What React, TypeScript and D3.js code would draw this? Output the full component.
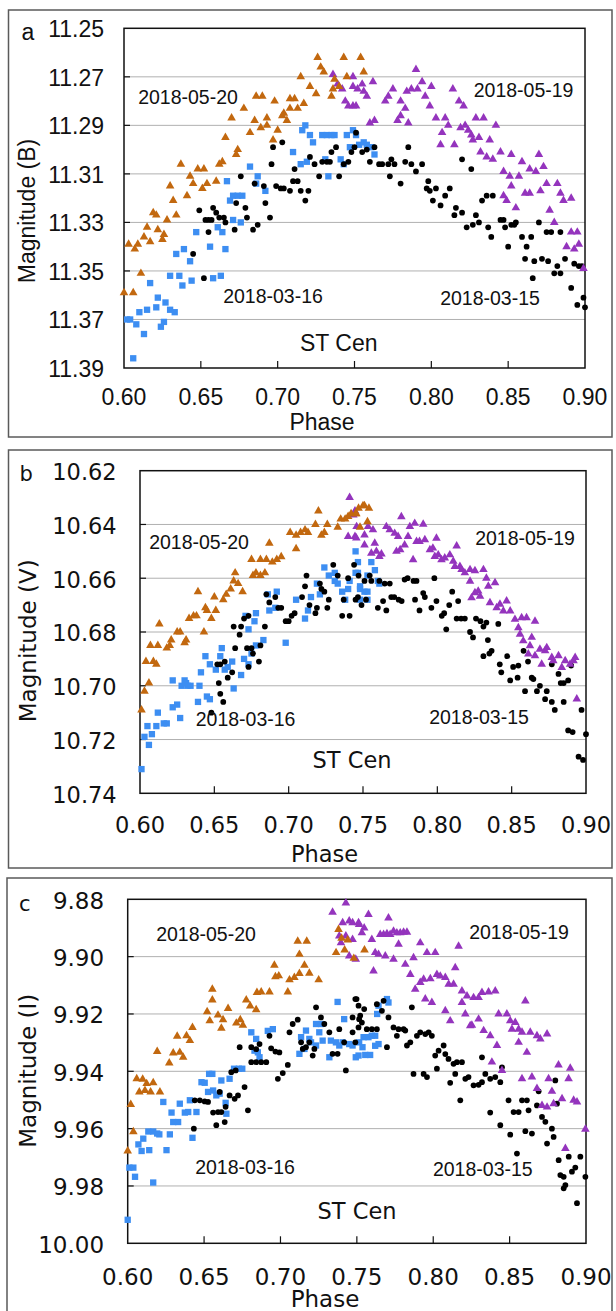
import React from "react";
import * as d3 from "d3";

// ---------- tick labels ----------
const PHASE_TICKS = [0.6, 0.65, 0.7, 0.75, 0.8, 0.85, 0.9];
const B_TICKS = [11.25, 11.27, 11.29, 11.31, 11.33, 11.35, 11.37, 11.39];
const V_TICKS = [10.62, 10.64, 10.66, 10.68, 10.7, 10.72, 10.74];
const I_TICKS = [9.88, 9.9, 9.92, 9.94, 9.96, 9.98, 10.0];
const DATES = ["2018-05-20", "2018-05-19", "2018-03-16", "2018-03-15"];
const STAR = "ST Cen";
const BANDS = ["Magnitude (B)", "Magnitude (V)", "Magnitude (I)"];

// ---------- data: [phase, magnitude] ----------
const B_0520 = [[0.600,11.359],[0.606,11.359],[0.611,11.351],[0.603,11.339],[0.607,11.341],[0.609,11.339],[0.613,11.336],[0.615,11.332],[0.617,11.338],[0.619,11.326],[0.621,11.327],[0.622,11.333],[0.625,11.337],[0.626,11.335],[0.628,11.329],[0.630,11.315],[0.632,11.321],[0.634,11.327],[0.637,11.306],[0.641,11.319],[0.643,11.311],[0.645,11.314],[0.648,11.308],[0.652,11.308],[0.651,11.316],[0.654,11.314],[0.660,11.313],[0.662,11.306],[0.664,11.305],[0.666,11.295],[0.670,11.287],[0.673,11.302],[0.674,11.300],[0.678,11.283],[0.682,11.293],[0.685,11.288],[0.686,11.278],[0.690,11.278],[0.689,11.291],[0.693,11.290],[0.693,11.287],[0.698,11.280],[0.697,11.296],[0.700,11.292],[0.703,11.286],[0.704,11.285],[0.706,11.288],[0.708,11.279],[0.708,11.283],[0.711,11.279],[0.713,11.283],[0.715,11.270],[0.717,11.281],[0.721,11.274],[0.725,11.277],[0.726,11.262],[0.728,11.266],[0.730,11.268],[0.735,11.278],[0.736,11.275],[0.737,11.271],[0.740,11.274],[0.743,11.262],[0.745,11.270],[0.754,11.262],[0.756,11.268]];
const B_0519 = [[0.736,11.269],[0.739,11.273],[0.742,11.275],[0.744,11.280],[0.746,11.282],[0.749,11.282],[0.751,11.282],[0.749,11.274],[0.752,11.275],[0.755,11.273],[0.749,11.270],[0.756,11.276],[0.758,11.278],[0.760,11.289],[0.763,11.288],[0.762,11.272],[0.770,11.280],[0.772,11.278],[0.775,11.275],[0.778,11.288],[0.780,11.286],[0.783,11.283],[0.780,11.280],[0.785,11.289],[0.784,11.276],[0.787,11.275],[0.790,11.267],[0.791,11.275],[0.794,11.272],[0.796,11.278],[0.799,11.282],[0.800,11.274],[0.803,11.287],[0.807,11.293],[0.809,11.287],[0.811,11.290],[0.806,11.298],[0.815,11.298],[0.814,11.275],[0.818,11.280],[0.821,11.282],[0.819,11.291],[0.822,11.290],[0.824,11.292],[0.826,11.294],[0.827,11.296],[0.831,11.295],[0.838,11.296],[0.829,11.287],[0.834,11.287],[0.842,11.290],[0.832,11.301],[0.836,11.303],[0.840,11.304],[0.845,11.301],[0.847,11.309],[0.852,11.302],[0.851,11.311],[0.857,11.311],[0.859,11.305],[0.864,11.308],[0.868,11.309],[0.870,11.302],[0.873,11.307],[0.847,11.319],[0.849,11.321],[0.852,11.315],[0.861,11.318],[0.864,11.318],[0.855,11.324],[0.871,11.317],[0.875,11.314],[0.877,11.325],[0.882,11.314],[0.884,11.318],[0.886,11.321],[0.880,11.330],[0.891,11.320],[0.891,11.334],[0.895,11.334],[0.888,11.340],[0.893,11.341],[0.896,11.339],[0.899,11.349]];
const B_0316 = [[0.602,11.370],[0.604,11.370],[0.606,11.386],[0.608,11.372],[0.610,11.367],[0.613,11.376],[0.615,11.366],[0.617,11.355],[0.621,11.365],[0.622,11.361],[0.624,11.373],[0.626,11.371],[0.627,11.363],[0.630,11.366],[0.633,11.367],[0.630,11.352],[0.634,11.343],[0.636,11.352],[0.638,11.356],[0.639,11.341],[0.643,11.346],[0.644,11.354],[0.647,11.334],[0.656,11.340],[0.658,11.353],[0.661,11.332],[0.663,11.352],[0.664,11.334],[0.666,11.341],[0.667,11.313],[0.669,11.321],[0.671,11.319],[0.674,11.319],[0.677,11.319],[0.671,11.329],[0.676,11.330],[0.682,11.307],[0.686,11.314],[0.687,11.311],[0.692,11.317],[0.710,11.301],[0.715,11.306],[0.716,11.292],[0.718,11.290],[0.719,11.305],[0.721,11.294],[0.723,11.297],[0.729,11.294],[0.731,11.304],[0.732,11.294],[0.733,11.311],[0.735,11.294],[0.737,11.294],[0.741,11.304],[0.743,11.306],[0.745,11.294],[0.747,11.299],[0.749,11.292],[0.751,11.294],[0.753,11.298],[0.756,11.297],[0.758,11.298],[0.761,11.299],[0.763,11.302]];
const B_0315 = [[0.645,11.343],[0.649,11.325],[0.652,11.353],[0.653,11.329],[0.655,11.329],[0.657,11.329],[0.655,11.334],[0.658,11.324],[0.660,11.326],[0.662,11.328],[0.665,11.328],[0.666,11.330],[0.672,11.333],[0.673,11.322],[0.676,11.311],[0.679,11.324],[0.680,11.328],[0.684,11.333],[0.685,11.314],[0.687,11.331],[0.691,11.315],[0.692,11.322],[0.695,11.328],[0.696,11.306],[0.697,11.299],[0.703,11.297],[0.699,11.315],[0.702,11.316],[0.704,11.316],[0.708,11.317],[0.710,11.313],[0.711,11.308],[0.713,11.313],[0.715,11.317],[0.718,11.321],[0.720,11.317],[0.721,11.303],[0.724,11.306],[0.727,11.311],[0.729,11.305],[0.732,11.305],[0.734,11.305],[0.735,11.301],[0.738,11.299],[0.740,11.311],[0.743,11.306],[0.746,11.305],[0.748,11.301],[0.750,11.299],[0.751,11.293],[0.755,11.301],[0.758,11.300],[0.760,11.305],[0.763,11.299],[0.766,11.306],[0.768,11.306],[0.772,11.306],[0.773,11.311],[0.774,11.304],[0.776,11.306],[0.780,11.314],[0.783,11.305],[0.785,11.299],[0.787,11.306],[0.790,11.309],[0.794,11.306],[0.797,11.316],[0.799,11.317],[0.798,11.313],[0.801,11.321],[0.803,11.316],[0.806,11.323],[0.809,11.319],[0.812,11.316],[0.815,11.327],[0.816,11.324],[0.820,11.326],[0.820,11.304],[0.823,11.332],[0.826,11.308],[0.827,11.331],[0.829,11.327],[0.831,11.330],[0.833,11.321],[0.836,11.319],[0.840,11.319],[0.837,11.332],[0.839,11.336],[0.845,11.329],[0.847,11.329],[0.848,11.332],[0.850,11.340],[0.852,11.331],[0.854,11.331],[0.855,11.330],[0.859,11.336],[0.862,11.340],[0.865,11.336],[0.861,11.345],[0.866,11.353],[0.867,11.346],[0.872,11.345],[0.870,11.330],[0.875,11.334],[0.878,11.334],[0.884,11.334],[0.876,11.346],[0.882,11.348],[0.880,11.351],[0.884,11.351],[0.887,11.345],[0.893,11.347],[0.891,11.357],[0.895,11.364],[0.899,11.361],[0.900,11.365],[0.896,11.348],[0.898,11.348]];

const V_0520 = [[0.601,10.709],[0.603,10.702],[0.606,10.699],[0.604,10.691],[0.609,10.691],[0.611,10.692],[0.607,10.685],[0.612,10.685],[0.613,10.677],[0.618,10.686],[0.620,10.685],[0.621,10.683],[0.625,10.680],[0.627,10.680],[0.630,10.684],[0.631,10.683],[0.633,10.675],[0.636,10.674],[0.638,10.674],[0.639,10.665],[0.643,10.680],[0.644,10.671],[0.645,10.672],[0.648,10.675],[0.650,10.667],[0.651,10.672],[0.656,10.668],[0.658,10.666],[0.661,10.664],[0.664,10.658],[0.663,10.661],[0.666,10.662],[0.669,10.665],[0.675,10.653],[0.681,10.653],[0.685,10.653],[0.676,10.659],[0.678,10.658],[0.681,10.659],[0.684,10.658],[0.687,10.647],[0.689,10.654],[0.692,10.653],[0.695,10.652],[0.701,10.643],[0.705,10.644],[0.708,10.643],[0.705,10.649],[0.711,10.642],[0.713,10.643],[0.718,10.640],[0.720,10.635],[0.722,10.644],[0.726,10.640],[0.724,10.643],[0.733,10.641],[0.735,10.638],[0.738,10.638],[0.740,10.637],[0.742,10.636],[0.745,10.636],[0.747,10.634],[0.750,10.633],[0.7455,10.636],[0.748,10.641],[0.751,10.633],[0.754,10.634],[0.753,10.639]];
const V_0519 = [[0.741,10.630],[0.7435,10.6365],[0.7446,10.635],[0.7457,10.6408],[0.740,10.6445],[0.7446,10.6445],[0.7455,10.645],[0.751,10.6439],[0.7534,10.6408],[0.7567,10.642],[0.751,10.6476],[0.7579,10.647],[0.7556,10.6507],[0.759,10.650],[0.761,10.6519],[0.7624,10.651],[0.7657,10.6408],[0.768,10.642],[0.7713,10.6433],[0.7736,10.6445],[0.7758,10.6371],[0.7725,10.650],[0.775,10.6494],[0.778,10.6476],[0.7803,10.6445],[0.7815,10.6408],[0.7848,10.6396],[0.786,10.6463],[0.7905,10.6399],[0.7837,10.6531],[0.788,10.6463],[0.7916,10.6457],[0.795,10.6494],[0.7994,10.6451],[0.797,10.6488],[0.7983,10.6519],[0.8006,10.6513],[0.8028,10.6531],[0.805,10.6525],[0.8084,10.6513],[0.8107,10.6537],[0.813,10.648],[0.8118,10.6556],[0.8152,10.6556],[0.8163,10.6568],[0.8185,10.658],[0.822,10.6568],[0.8253,10.6572],[0.831,10.6568],[0.822,10.6611],[0.8253,10.6654],[0.8275,10.6648],[0.823,10.6673],[0.8287,10.6667],[0.833,10.660],[0.8343,10.663],[0.8388,10.6617],[0.8354,10.6691],[0.8399,10.671],[0.8421,10.6697],[0.8444,10.6722],[0.8466,10.6685],[0.849,10.6722],[0.8522,10.6753],[0.8545,10.6784],[0.8567,10.6747],[0.860,10.6747],[0.8657,10.676],[0.8556,10.6808],[0.8578,10.6833],[0.8623,10.6851],[0.8635,10.682],[0.8612,10.6882],[0.8657,10.6888],[0.869,10.6864],[0.8725,10.687],[0.8736,10.6858],[0.8702,10.692],[0.877,10.6895],[0.878,10.6907],[0.8815,10.6888],[0.8837,10.6932],[0.886,10.6907],[0.8893,10.692],[0.8916,10.6907],[0.8927,10.6895],[0.8938,10.7049]];
const V_0316 = [[0.601,10.731],[0.603,10.719],[0.606,10.722],[0.608,10.718],[0.605,10.715],[0.611,10.715],[0.612,10.710],[0.616,10.714],[0.618,10.714],[0.622,10.708],[0.625,10.707],[0.627,10.712],[0.622,10.698],[0.630,10.698],[0.632,10.700],[0.628,10.700],[0.631,10.699],[0.634,10.700],[0.639,10.706],[0.640,10.700],[0.641,10.695],[0.645,10.704],[0.647,10.705],[0.644,10.689],[0.647,10.692],[0.651,10.694],[0.654,10.689],[0.655,10.686],[0.657,10.694],[0.659,10.693],[0.662,10.691],[0.663,10.701],[0.668,10.696],[0.670,10.690],[0.673,10.692],[0.675,10.688],[0.678,10.685],[0.683,10.683],[0.673,10.679],[0.677,10.676],[0.671,10.674],[0.678,10.673],[0.687,10.672],[0.691,10.671],[0.698,10.684],[0.686,10.666],[0.692,10.665],[0.705,10.668],[0.711,10.675],[0.713,10.672],[0.715,10.667],[0.719,10.662],[0.721,10.666],[0.724,10.656],[0.727,10.659],[0.731,10.658],[0.731,10.661],[0.733,10.662],[0.736,10.665],[0.738,10.668],[0.740,10.664],[0.741,10.661],[0.745,10.658],[0.745,10.650],[0.748,10.663],[0.7466,10.654],[0.7466,10.658],[0.748,10.664],[0.753,10.659],[0.7556,10.654],[0.758,10.657],[0.760,10.661],[0.761,10.662],[0.753,10.665],[0.751,10.665],[0.748,10.668],[0.753,10.668]];
const V_0315 = [[0.648,10.710],[0.653,10.699],[0.654,10.703],[0.656,10.706],[0.652,10.692],[0.654,10.692],[0.657,10.691],[0.659,10.697],[0.662,10.695],[0.664,10.686],[0.663,10.678],[0.667,10.681],[0.668,10.678],[0.670,10.675],[0.673,10.674],[0.672,10.686],[0.675,10.686],[0.676,10.688],[0.673,10.693],[0.680,10.691],[0.681,10.685],[0.684,10.678],[0.685,10.666],[0.687,10.669],[0.691,10.667],[0.693,10.671],[0.695,10.671],[0.698,10.676],[0.700,10.676],[0.702,10.674],[0.704,10.673],[0.709,10.667],[0.711,10.663],[0.712,10.659],[0.714,10.670],[0.718,10.673],[0.719,10.671],[0.721,10.662],[0.722,10.664],[0.724,10.665],[0.727,10.668],[0.726,10.671],[0.730,10.655],[0.736,10.674],[0.741,10.674],[0.733,10.659],[0.740,10.660],[0.737,10.668],[0.745,10.668],[0.744,10.655],[0.747,10.659],[0.7466,10.667],[0.751,10.661],[0.7545,10.659],[0.7556,10.661],[0.749,10.670],[0.752,10.668],[0.760,10.671],[0.761,10.661],[0.7635,10.6685],[0.7657,10.672],[0.7646,10.662],[0.768,10.662],[0.769,10.667],[0.771,10.667],[0.774,10.668],[0.776,10.6685],[0.778,10.6605],[0.780,10.660],[0.784,10.661],[0.786,10.661],[0.785,10.668],[0.788,10.672],[0.7905,10.6655],[0.7916,10.667],[0.796,10.671],[0.798,10.660],[0.7994,10.6685],[0.803,10.674],[0.8046,10.673],[0.808,10.670],[0.806,10.679],[0.810,10.665],[0.813,10.675],[0.814,10.6685],[0.816,10.675],[0.8185,10.675],[0.822,10.680],[0.824,10.682],[0.826,10.675],[0.829,10.676],[0.831,10.678],[0.833,10.6765],[0.834,10.683],[0.831,10.689],[0.835,10.688],[0.8365,10.687],[0.841,10.677],[0.842,10.692],[0.843,10.695],[0.847,10.689],[0.849,10.698],[0.851,10.693],[0.8545,10.6925],[0.858,10.687],[0.861,10.691],[0.854,10.697],[0.859,10.702],[0.8635,10.697],[0.8646,10.6975],[0.867,10.702],[0.869,10.700],[0.8736,10.702],[0.8725,10.705],[0.877,10.692],[0.877,10.706],[0.879,10.709],[0.8815,10.6956],[0.883,10.699],[0.885,10.699],[0.885,10.706],[0.888,10.698],[0.890,10.6925],[0.888,10.7166],[0.891,10.7172],[0.897,10.709],[0.895,10.7264],[0.898,10.7276],[0.900,10.718]];

const I_0520 = [[0.600,9.9678],[0.6037,9.9611],[0.602,9.9516],[0.6059,9.9426],[0.6098,9.9428],[0.6124,9.9443],[0.6167,9.944],[0.6076,9.9472],[0.6113,9.9467],[0.615,9.9472],[0.6211,9.9472],[0.6193,9.9331],[0.6272,9.9371],[0.6298,9.9336],[0.6341,9.9334],[0.6363,9.9351],[0.6324,9.9278],[0.6385,9.9276],[0.6407,9.9293],[0.6424,9.9247],[0.652,9.9192],[0.6537,9.9224],[0.6591,9.9204],[0.6624,9.922],[0.6657,9.9181],[0.6554,9.9151],[0.6554,9.9114],[0.6613,9.925],[0.6711,9.9232],[0.6737,9.922],[0.6754,9.9239],[0.6776,9.9151],[0.6802,9.9172],[0.6841,9.9185],[0.6846,9.9125],[0.6874,9.9123],[0.6928,9.9123],[0.6967,9.907],[0.696,9.903],[0.6989,9.9067],[0.7048,9.9123],[0.7059,9.9081],[0.7091,9.9073],[0.7124,9.9059],[0.7124,9.8992],[0.7157,9.903],[0.7189,9.9058],[0.725,9.9081],[0.7113,9.8946],[0.7172,9.8946],[0.7364,9.8986],[0.738,9.8905],[0.740,9.8936],[0.744,9.8942],[0.742,9.8977],[0.748,9.9006],[0.755,9.8977]];
const I_0519 = [[0.7341,9.8845],[0.7428,9.8813],[0.7407,9.8882],[0.745,9.8876],[0.7472,9.8882],[0.7515,9.8888],[0.7385,9.8928],[0.7428,9.8928],[0.7396,9.8952],[0.7472,9.894],[0.745,9.8998],[0.7493,9.9009],[0.7548,9.890],[0.7511,9.8882],[0.7576,9.8853],[0.7533,9.8917],[0.7707,9.8865],[0.7598,9.894],[0.762,9.8986],[0.7642,9.8992],[0.7686,9.8998],[0.774,9.9009],[0.7609,9.905],[0.7653,9.8923],[0.7675,9.8923],[0.7697,9.892],[0.7718,9.8923],[0.774,9.8911],[0.7762,9.8917],[0.7784,9.8917],[0.7806,9.8915],[0.7828,9.8915],[0.7773,9.8957],[0.7817,9.9027],[0.785,9.9062],[0.7871,9.9004],[0.7915,9.8952],[0.7959,9.8986],[0.8013,9.8986],[0.7882,9.9114],[0.7915,9.909],[0.7948,9.9148],[0.7991,9.916],[0.7937,9.9079],[0.7981,9.9077],[0.8024,9.9062],[0.8046,9.9068],[0.8079,9.9073],[0.8101,9.9096],[0.8133,9.9096],[0.8144,9.9039],[0.8166,9.8964],[0.8188,9.912],[0.8221,9.9137],[0.8264,9.9143],[0.8297,9.9143],[0.8319,9.9125],[0.8362,9.9123],[0.8406,9.912],[0.8603,9.9155],[0.8079,9.9189],[0.8111,9.9224],[0.8188,9.916],[0.821,9.92],[0.8242,9.9241],[0.8253,9.9239],[0.8297,9.9218],[0.833,9.9258],[0.8373,9.9276],[0.8417,9.931],[0.8428,9.92],[0.8482,9.92],[0.8504,9.9224],[0.8515,9.9253],[0.8537,9.923],[0.8559,9.9253],[0.8581,9.9264],[0.8559,9.9299],[0.8613,9.9334],[0.8635,9.9264],[0.8679,9.9276],[0.8701,9.9287],[0.8745,9.927],[0.8384,9.9368],[0.845,9.9397],[0.8581,9.9426],[0.8646,9.942],[0.8679,9.946],[0.8712,9.9519],[0.8745,9.9525],[0.8755,9.9426],[0.8777,9.947],[0.8788,9.9513],[0.882,9.9378],[0.8843,9.9496],[0.8897,9.9389],[0.8886,9.9426],[0.8919,9.9501],[0.8941,9.9507],[0.8996,9.9602],[0.8865,9.9669]];
const I_0316 = [[0.600,9.9918],[0.6011,9.9736],[0.6037,9.9736],[0.6048,9.9768],[0.6091,9.9678],[0.607,9.9655],[0.6102,9.9635],[0.6135,9.961],[0.6167,9.961],[0.6193,9.9617],[0.6207,9.962],[0.6141,9.9675],[0.6167,9.9788],[0.6254,9.9675],[0.6276,9.962],[0.6298,9.9577],[0.633,9.9577],[0.6287,9.9544],[0.6341,9.9513],[0.6374,9.9544],[0.6407,9.9501],[0.6396,9.9542],[0.6424,9.9632],[0.645,9.9542],[0.6233,9.9507],[0.6483,9.9438],[0.6504,9.944],[0.6533,9.9409],[0.6554,9.9409],[0.6526,9.9472],[0.6559,9.9467],[0.658,9.9484],[0.6602,9.9478],[0.6641,9.951],[0.6646,9.9548],[0.6613,9.9432],[0.6667,9.9426],[0.6696,9.9391],[0.6728,9.9391],[0.675,9.9391],[0.6809,9.9264],[0.6841,9.9287],[0.683,9.9328],[0.6852,9.9334],[0.6863,9.9351],[0.6917,9.9259],[0.695,9.9253],[0.7135,9.9281],[0.7167,9.9258],[0.7189,9.9287],[0.7233,9.9235],[0.7265,9.9235],[0.7124,9.9339],[0.7157,9.9322],[0.72,9.9299],[0.7233,9.931],[0.7254,9.9264],[0.7276,9.9293],[0.732,9.9351],[0.733,9.9293],[0.7363,9.9299],[0.7385,9.931],[0.7407,9.9299],[0.7374,9.9158],[0.7417,9.9218],[0.745,9.9305],[0.7493,9.9351],[0.7472,9.931],[0.7515,9.9299],[0.7537,9.9316],[0.7511,9.9345],[0.7544,9.9281],[0.7576,9.9281],[0.7598,9.9276],[0.762,9.9276],[0.7642,9.9305],[0.7697,9.9148],[0.7707,9.916],[0.7642,9.9171],[0.7555,9.9343],[0.7587,9.9343],[0.762,9.9311],[0.7633,9.920]];
const I_0315 = [[0.6433,9.96],[0.6439,9.9501],[0.6472,9.9501],[0.6504,9.9505],[0.6526,9.9507],[0.6559,9.9544],[0.6591,9.9542],[0.6613,9.9542],[0.658,9.9588],[0.6635,9.9577],[0.6602,9.9472],[0.6641,9.9524],[0.6667,9.9484],[0.670,9.9496],[0.6722,9.9484],[0.6765,9.9455],[0.6787,9.9536],[0.6678,9.9403],[0.6707,9.9397],[0.6733,9.9316],[0.6809,9.9316],[0.6809,9.9368],[0.6841,9.9368],[0.6874,9.9368],[0.6907,9.9368],[0.6863,9.9305],[0.6841,9.9323],[0.6928,9.9276],[0.6939,9.932],[0.6967,9.9331],[0.6993,9.9334],[0.6983,9.9426],[0.7015,9.9406],[0.7048,9.9378],[0.7059,9.9264],[0.708,9.9235],[0.7113,9.922],[0.7135,9.9299],[0.7146,9.9322],[0.7167,9.9316],[0.7189,9.9299],[0.7222,9.9322],[0.7211,9.9345],[0.7233,9.9177],[0.7265,9.9212],[0.7287,9.9235],[0.732,9.9264],[0.7341,9.9339],[0.7374,9.9339],[0.7385,9.9253],[0.7417,9.9299],[0.7428,9.9397],[0.7472,9.9212],[0.7498,9.9148],[0.7472,9.9264],[0.7515,9.9218],[0.7548,9.9183],[0.749,9.9148],[0.7511,9.9171],[0.7522,9.9206],[0.7511,9.9247],[0.749,9.9299],[0.7533,9.923],[0.7565,9.9253],[0.7598,9.9253],[0.7631,9.9253],[0.7631,9.9166],[0.7664,9.9189],[0.7675,9.9154],[0.7707,9.9212],[0.7697,9.9316],[0.774,9.9247],[0.7762,9.9276],[0.7773,9.9253],[0.7806,9.9253],[0.7817,9.9258],[0.7828,9.931],[0.785,9.9299],[0.786,9.9177],[0.7893,9.9276],[0.7915,9.9264],[0.7948,9.927],[0.797,9.9264],[0.7991,9.9276],[0.7871,9.9409],[0.7937,9.9409],[0.7959,9.942],[0.8024,9.9391],[0.8013,9.9345],[0.8035,9.9328],[0.8068,9.931],[0.81,9.9357],[0.8079,9.934],[0.8133,9.9374],[0.8155,9.9368],[0.8188,9.9368],[0.8144,9.9409],[0.821,9.9426],[0.8231,9.942],[0.8264,9.9449],[0.8297,9.9447],[0.8319,9.9438],[0.8341,9.9409],[0.8373,9.9426],[0.8406,9.942],[0.8439,9.9438],[0.8111,9.944],[0.8177,9.9501],[0.8319,9.9351],[0.8373,9.9544],[0.8439,9.9588],[0.845,9.9386],[0.8493,9.9501],[0.8526,9.9542],[0.8559,9.9542],[0.8581,9.9501],[0.8613,9.9501],[0.8504,9.9621],[0.8548,9.9687],[0.8603,9.9609],[0.8624,9.9536],[0.8646,9.9617],[0.869,9.947],[0.8679,9.9519],[0.8712,9.9559],[0.8734,9.9576],[0.8745,9.9652],[0.8777,9.96],[0.8788,9.9629],[0.881,9.9513],[0.8821,9.971],[0.8832,9.9762],[0.8854,9.9768],[0.8865,9.9797],[0.8854,9.9808],[0.8887,9.9698],[0.8908,9.975],[0.893,9.9736],[0.8963,9.9698],[0.8996,9.9768],[0.8941,9.986],[0.8799,9.9432]];

// ---------- styles ----------
const COL = { brown: "#c2680f", purple: "#9434bd", blue: "#3d8ef2", black: "#000000" };
const ARIAL = "'Liberation Sans', Arial, sans-serif";
const VERD = "'DejaVu Sans', Verdana, sans-serif";

const tri = d3.symbol().type(d3.symbolTriangle).size(32)();
const sq = d3.symbol().type(d3.symbolSquare).size(40)();
const dot = d3.symbol().type(d3.symbolCircle).size(26)();

type Panel = {
  letter: string; band: string; ticks: number[];
  s0520: number[][]; s0519: number[][]; s0316: number[][]; s0315: number[][];
  frame: [number, number, number, number];
  plot: { l: number; r: number; t: number; b: number };
  tickFont: string; tickSize: number; yLabRight: number; yLabDy: number; xLabBase: number;
  phase: [number, number]; mag: [number, number]; letterPos: [number, number]; letterSize: number;
  dates: [number, number][]; star: [number, number]; starFont: string;
};

const PANELS: Panel[] = [
  {
    letter: "a", band: BANDS[0], ticks: B_TICKS, s0520: B_0520, s0519: B_0519, s0316: B_0316, s0315: B_0315,
    frame: [8.5, 10, 603.5, 427], plot: { l: 124, r: 585, t: 28.3, b: 368 },
    tickFont: ARIAL, tickSize: 23, yLabRight: 104, yLabDy: 9, xLabBase: 405,
    phase: [322, 430], mag: [35, 211], letterPos: [21.5, 40], letterSize: 23,
    dates: [[188, 104], [523.6, 96.7], [273, 303.3], [490, 305]], star: [338.7, 350.7], starFont: ARIAL,
  },
  {
    letter: "b", band: BANDS[1], ticks: V_TICKS, s0520: V_0520, s0519: V_0519, s0316: V_0316, s0315: V_0315,
    frame: [8.5, 450, 603.5, 418], plot: { l: 140, r: 586, t: 470.7, b: 793.3 },
    tickFont: VERD, tickSize: 22.5, yLabRight: 116.7, yLabDy: 9.3, xLabBase: 833,
    phase: [324.6, 861.7], mag: [36, 640.8], letterPos: [19.6, 480.7], letterSize: 21,
    dates: [[199, 549.3], [525, 545], [245.6, 726], [479, 724]], star: [352, 768.3], starFont: VERD,
  },
  {
    letter: "c", band: BANDS[2], ticks: I_TICKS, s0520: I_0520, s0519: I_0519, s0316: I_0316, s0315: I_0315,
    frame: [7, 878, 605, 460], plot: { l: 127.7, r: 586, t: 899.3, b: 1243.3 },
    tickFont: VERD, tickSize: 23, yLabRight: 104.1, yLabDy: 9.4, xLabBase: 1285,
    phase: [325, 1307], mag: [35.5, 1070.8], letterPos: [19, 910.7], letterSize: 21,
    dates: [[206, 940.7], [519, 939], [245, 1174], [482.8, 1176]], star: [357, 1219], starFont: VERD,
  },
];

function PanelView({ p }: { p: Panel }) {
  const x = d3.scaleLinear().domain([PHASE_TICKS[0], PHASE_TICKS[PHASE_TICKS.length - 1]]).range([p.plot.l, p.plot.r]);
  const y = d3.scaleLinear().domain([p.ticks[0], p.ticks[p.ticks.length - 1]]).range([p.plot.t, p.plot.b]);
  const fmt = d3.format(".2f");
  const pts = (data: number[][], path: string, color: string, key: string) =>
    data.map((d, i) => (
      <path key={key + i} d={path} fill={color} transform={`translate(${x(d[0])},${y(d[1])})`} />
    ));
  return (
    <g>
      <rect x={p.frame[0]} y={p.frame[1]} width={p.frame[2]} height={p.frame[3]} fill="none" stroke="#5a5a5a" strokeWidth={1.5} />
      {p.ticks.slice(1, -1).map((t) => (
        <line key={"g" + t} x1={p.plot.l} x2={p.plot.r} y1={y(t)} y2={y(t)} stroke="#b0b0b0" strokeWidth={1} />
      ))}
      {p.ticks.slice(1, -1).map((t) => (
        <line key={"yt" + t} x1={p.plot.l} x2={p.plot.l + 6} y1={y(t)} y2={y(t)} stroke="#111" strokeWidth={1.2} />
      ))}
      {PHASE_TICKS.slice(1, -1).map((t) => (
        <line key={"xt" + t} x1={x(t)} x2={x(t)} y1={p.plot.b} y2={p.plot.b - 7} stroke="#111" strokeWidth={1.2} />
      ))}
      <rect x={p.plot.l} y={p.plot.t} width={p.plot.r - p.plot.l} height={p.plot.b - p.plot.t} fill="none" stroke="#111" strokeWidth={1.5} />
      {pts(p.s0316, sq, COL.blue, "bl")}
      {pts(p.s0315, dot, COL.black, "bk")}
      {pts(p.s0519, tri, COL.purple, "pu")}
      {pts(p.s0520, tri, COL.brown, "br")}
      {p.ticks.map((t) => (
        <text key={"yl" + t} x={p.yLabRight} y={y(t) + p.yLabDy} textAnchor="end" fontFamily={p.tickFont} fontSize={p.tickSize} fill="#111">
          {fmt(t)}
        </text>
      ))}
      {PHASE_TICKS.map((t) => (
        <text key={"xl" + t} x={x(t)} y={p.xLabBase} textAnchor="middle" fontFamily={p.tickFont} fontSize={p.tickSize} fill="#111">
          {fmt(t)}
        </text>
      ))}
      <text x={p.phase[0]} y={p.phase[1]} textAnchor="middle" fontFamily={p.tickFont} fontSize={p.tickSize} fill="#111">Phase</text>
      <text transform={`translate(${p.mag[0]},${p.mag[1]}) rotate(-90)`} textAnchor="middle" fontFamily={p.tickFont} fontSize={23} fill="#111">{p.band}</text>
      <text x={p.letterPos[0]} y={p.letterPos[1]} fontFamily={p.tickFont} fontSize={p.letterSize} fill="#111">{p.letter}</text>
      {p.dates.map((d, i) => (
        <text key={"d" + i} x={d[0]} y={d[1]} textAnchor="middle" fontFamily={ARIAL} fontSize={19.5} fill="#111">{DATES[i]}</text>
      ))}
      <text x={p.star[0]} y={p.star[1]} textAnchor="middle" fontFamily={p.starFont} fontSize={p.starFont === ARIAL ? 23 : 22.5} fill="#111">{STAR}</text>
    </g>
  );
}

export default function App() {
  return (
    <svg width={616} height={1311} style={{ position: "absolute", left: 0, top: 0, background: "#fff" }}>
      <rect x={0} y={0} width={616} height={1311} fill="#fff" />
      {PANELS.map((p) => (
        <PanelView key={p.letter} p={p} />
      ))}
    </svg>
  );
}
